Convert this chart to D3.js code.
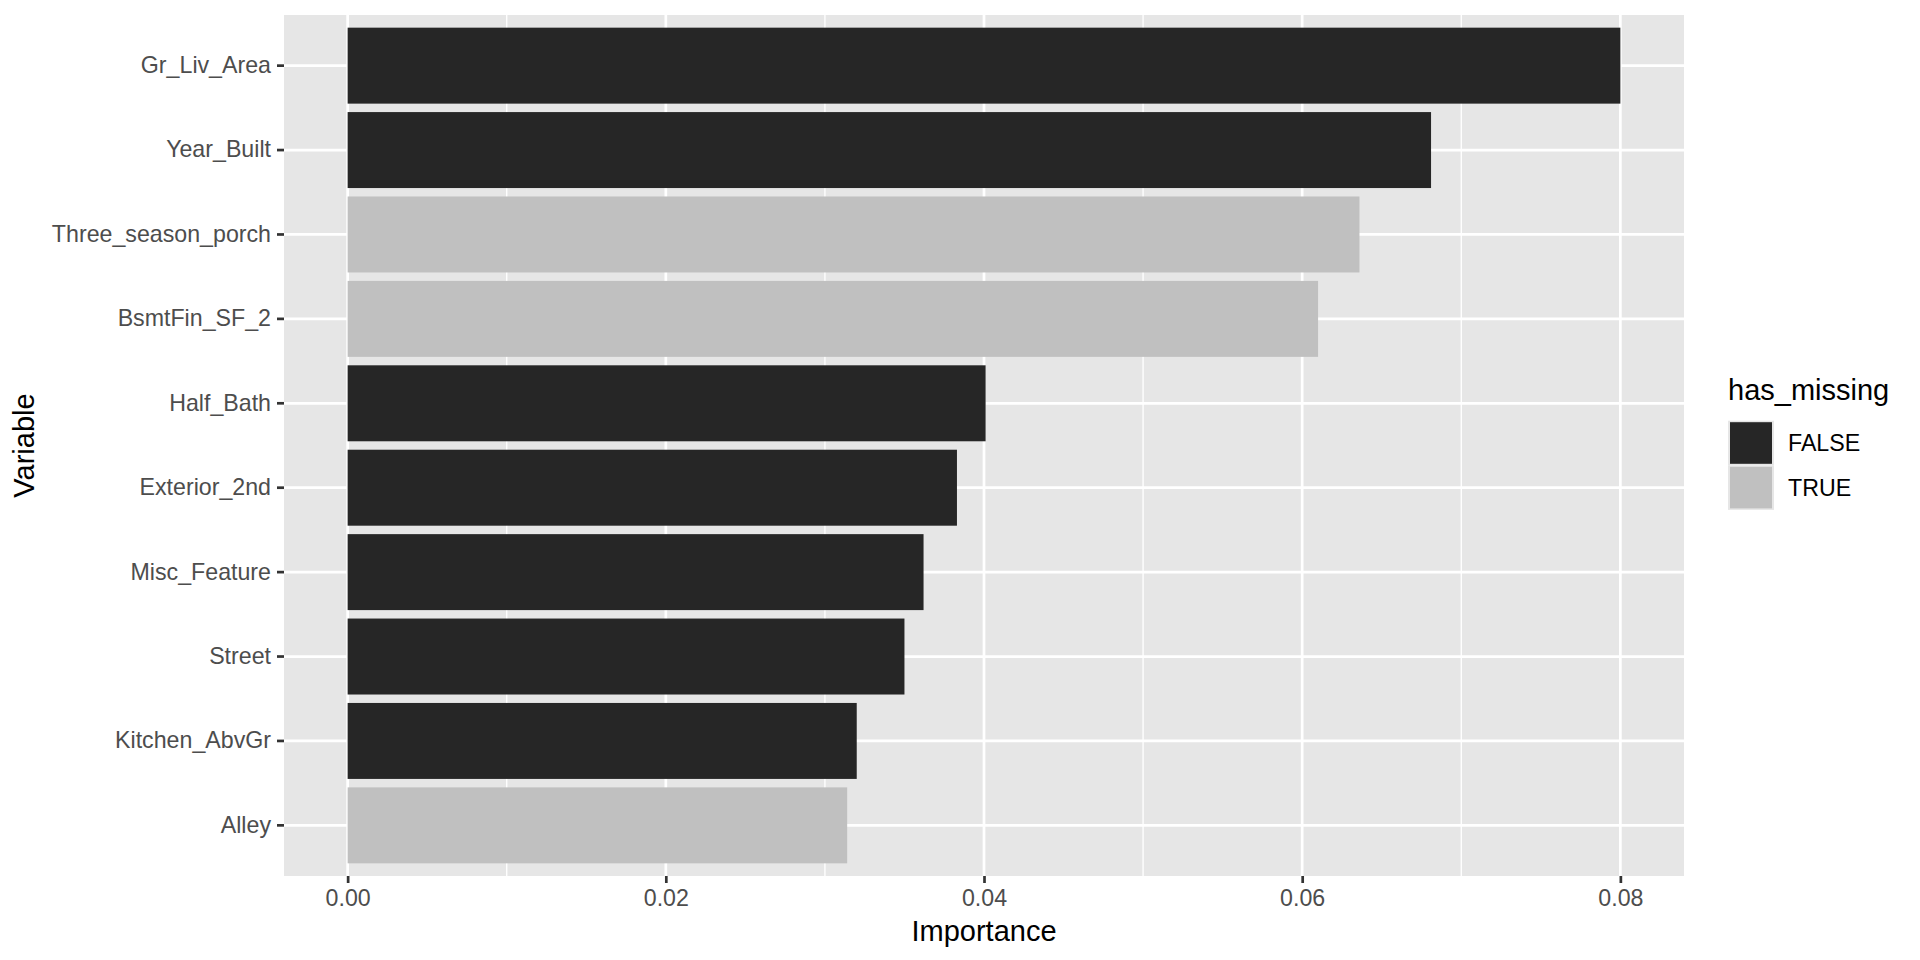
<!DOCTYPE html>
<html>
<head>
<meta charset="utf-8">
<script src="https://cdn.jsdelivr.net/npm/d3@7"></script>
<style>
  html, body { margin: 0; padding: 0; background: #ffffff; }
  svg { display: block; font-family: "Liberation Sans", Arial, Helvetica, sans-serif; }
</style>
</head>
<body>
<svg id="chart" width="1920" height="960"></svg>
<script>
// ---- data ----
const variables = ["Gr_Liv_Area", "Year_Built", "Three_season_porch", "BsmtFin_SF_2", "Half_Bath",
                   "Exterior_2nd", "Misc_Feature", "Street", "Kitchen_AbvGr", "Alley"];
const importance = [0.0800, 0.0681, 0.0636, 0.0610, 0.0401, 0.0383, 0.0362, 0.0350, 0.0320, 0.0314];
const hasMissing = ["FALSE", "FALSE", "TRUE", "TRUE", "FALSE", "FALSE", "FALSE", "FALSE", "FALSE", "TRUE"];
const legendLevels = ["FALSE", "TRUE"];
const xTicks = [0, 0.02, 0.04, 0.06, 0.08];
const xMinor = [0.01, 0.03, 0.05, 0.07];

// ---- layout ----
const panel = { left: 284, right: 1684, top: 15, bottom: 876 };
const svg = d3.select("#chart");

const x = d3.scaleLinear().domain([-0.004, 0.084]).range([panel.left, panel.right]);
const y = d3.scaleBand().domain(variables).range([panel.top, panel.bottom])
  .paddingInner(0.1).paddingOuter(0.15);
const fill = d3.scaleOrdinal().domain(legendLevels).range(["#262626", "#c0c0c0"]);
const panelBg = "#e6e6e6";

// panel background
svg.append("rect")
  .attr("x", panel.left).attr("y", panel.top)
  .attr("width", panel.right - panel.left).attr("height", panel.bottom - panel.top)
  .attr("fill", panelBg);

// minor grid
svg.append("g").selectAll("line").data(xMinor).join("line")
  .attr("x1", d => x(d)).attr("x2", d => x(d))
  .attr("y1", panel.top).attr("y2", panel.bottom)
  .attr("stroke", "#ffffff").attr("stroke-width", 1.35);

// major grid
svg.append("g").selectAll("line").data(xTicks).join("line")
  .attr("x1", d => x(d)).attr("x2", d => x(d))
  .attr("y1", panel.top).attr("y2", panel.bottom)
  .attr("stroke", "#ffffff").attr("stroke-width", 2.7);
svg.append("g").selectAll("line").data(variables).join("line")
  .attr("x1", panel.left).attr("x2", panel.right)
  .attr("y1", d => y(d) + y.bandwidth() / 2).attr("y2", d => y(d) + y.bandwidth() / 2)
  .attr("stroke", "#ffffff").attr("stroke-width", 2.7);

// bars
svg.append("g").selectAll("rect").data(variables).join("rect")
  .attr("x", x(0))
  .attr("y", d => y(d))
  .attr("width", (d, i) => x(importance[i]) - x(0))
  .attr("height", y.bandwidth())
  .attr("fill", (d, i) => fill(hasMissing[i]));

// x axis
const xAxis = svg.append("g")
  .attr("transform", `translate(0,${panel.bottom})`)
  .call(d3.axisBottom(x).tickValues(xTicks).tickFormat(d3.format(".2f")).tickSize(7).tickPadding(7));
xAxis.select(".domain").remove();
xAxis.selectAll(".tick line").attr("stroke", "#333333").attr("stroke-width", 2.7);
xAxis.selectAll(".tick text").attr("fill", "#4d4d4d").attr("font-size", "23.2px")
  .attr("font-family", "Liberation Sans, Arial, sans-serif");

// y axis
const yAxis = svg.append("g")
  .attr("transform", `translate(${panel.left},0)`)
  .call(d3.axisLeft(y).tickSize(7).tickPadding(6));
yAxis.select(".domain").remove();
yAxis.selectAll(".tick line").attr("stroke", "#333333").attr("stroke-width", 2.7);
yAxis.selectAll(".tick text").attr("fill", "#4d4d4d").attr("font-size", "23.2px")
  .attr("font-family", "Liberation Sans, Arial, sans-serif");

// axis titles
svg.append("text")
  .attr("x", (panel.left + panel.right) / 2).attr("y", 941)
  .attr("text-anchor", "middle").attr("font-size", "29px").attr("fill", "#000")
  .text("Importance");
svg.append("text")
  .attr("transform", `translate(34,${(panel.top + panel.bottom) / 2}) rotate(-90)`)
  .attr("text-anchor", "middle").attr("font-size", "29px").attr("fill", "#000")
  .text("Variable");

// legend
const lg = svg.append("g");
lg.append("text").attr("x", 1728).attr("y", 400)
  .attr("font-size", "29px").attr("fill", "#000").text("has_missing");
const keyH = 44.6, keyW = 46, keyTop = 420.7;
legendLevels.forEach((lvl, i) => {
  const ky = keyTop + i * keyH;
  lg.append("rect").attr("x", 1728).attr("y", ky).attr("width", keyW).attr("height", keyH)
    .attr("fill", panelBg);
  lg.append("rect").attr("x", 1730).attr("y", ky + 1.5).attr("width", keyW - 4).attr("height", keyH - 3)
    .attr("fill", fill(lvl));
  lg.append("text").attr("x", 1788).attr("y", ky + keyH / 2)
    .attr("dominant-baseline", "central")
    .attr("font-size", "23.2px").attr("fill", "#000").text(lvl);
});
</script>
</body>
</html>
